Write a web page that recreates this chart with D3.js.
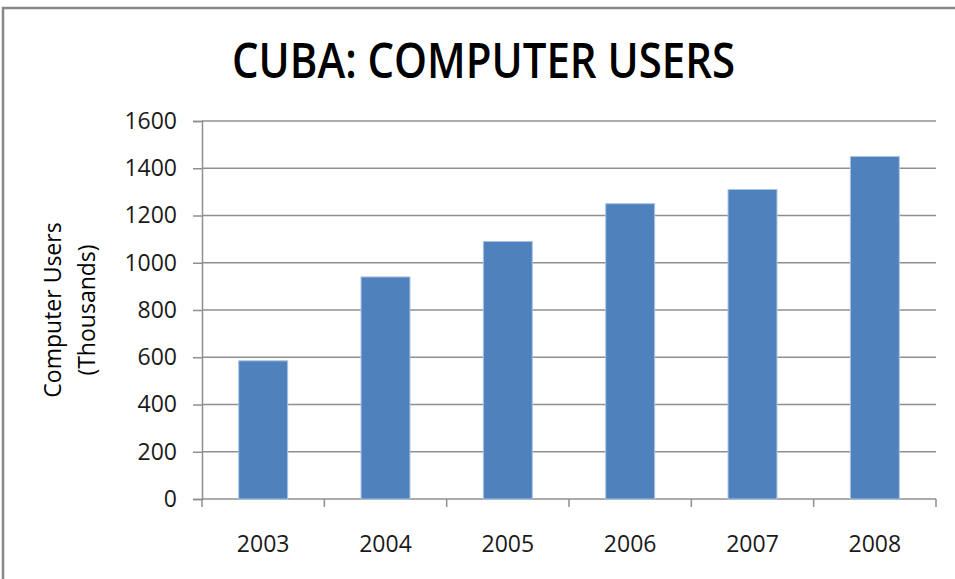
<!DOCTYPE html>
<html><head><meta charset="utf-8">
<script src="https://cdn.jsdelivr.net/npm/d3@7"></script>
<style>body{margin:0;background:#fff}svg{display:block}</style>
</head><body>
<script>
const years = ["2003","2004","2005","2006","2007","2008"];
const users = [585, 940, 1090, 1250, 1310, 1450];
const yTicks = [0,200,400,600,800,1000,1200,1400,1600];
const title = "CUBA: COMPUTER USERS";
const yTitle = ["Computer Users","(Thousands)"];

const W=955,H=579;
const m={left:202,right:936,top:121,bottom:499};
const svg=d3.select("body").append("svg").attr("width",W).attr("height",H);
svg.append("rect").attr("x",3).attr("y",8).attr("width",W+10).attr("height",H+10)
  .attr("fill","#fff").attr("stroke","#888").attr("stroke-width",2.5);

const x=d3.scaleBand().domain(years).range([m.left,m.right]).paddingInner(0.6).paddingOuter(0.3);
const y=d3.scaleLinear().domain([0,1600]).range([m.bottom,m.top]);

// gridlines
svg.append("g").selectAll("line").data(yTicks.filter(d=>d>0)).join("line")
  .attr("x1",m.left).attr("x2",m.right).attr("y1",d=>y(d)).attr("y2",d=>y(d))
  .attr("stroke","#8f8f8f").attr("stroke-width",1.5);

// y axis
const ya=svg.append("g").attr("transform",`translate(${m.left},0)`)
  .call(d3.axisLeft(y).tickValues(yTicks).tickFormat(d3.format("d")).tickSize(9).tickPadding(16));
ya.select(".domain").attr("stroke","#8f8f8f").attr("stroke-width",1.5);
ya.selectAll(".tick line").attr("stroke","#8f8f8f").attr("stroke-width",1.5);
ya.selectAll("text").attr("font-family","Open Sans").attr("font-size",23).attr("fill","#1a1a1a");

// x axis
const xs=d3.scaleLinear().domain([0,years.length]).range([m.left,m.right]);
const xa=svg.append("g").attr("transform",`translate(0,${m.bottom})`);
xa.append("line").attr("x1",m.left).attr("x2",m.right).attr("stroke","#8f8f8f").attr("stroke-width",1.5);
xa.selectAll(".xt").data(d3.range(years.length+1)).join("line").attr("class","xt")
  .attr("x1",d=>xs(d)).attr("x2",d=>xs(d)).attr("y1",0).attr("y2",8)
  .attr("stroke","#8f8f8f").attr("stroke-width",1.5);
xa.selectAll("text").data(years).join("text")
  .attr("x",d=>x(d)+x.bandwidth()/2).attr("y",53).attr("text-anchor","middle")
  .attr("font-family","Open Sans").attr("font-size",23).attr("fill","#1a1a1a").text(d=>d);

// bars
svg.append("g").selectAll("rect").data(years).join("rect")
  .attr("x",d=>x(d)).attr("width",x.bandwidth())
  .attr("y",(d,i)=>y(users[i])).attr("height",(d,i)=>m.bottom-y(users[i]))
  .attr("fill","#4f81bd").attr("stroke","#a9c4e4").attr("stroke-width",1);

// title
svg.append("text").attr("x",483.5).attr("y",78).attr("text-anchor","middle")
  .attr("font-family","Open Sans").attr("font-weight","600").attr("font-size",48)
  .attr("textLength",503).attr("lengthAdjust","spacingAndGlyphs").attr("fill","#000").text(title);

// y title
const yt=svg.append("text").attr("transform","translate(0,310) rotate(-90)")
  .attr("text-anchor","middle").attr("font-family","Open Sans").attr("font-weight","500").attr("font-size",23).attr("fill","#000");
yt.append("tspan").attr("x",0).attr("y",61).text(yTitle[0]);
yt.append("tspan").attr("x",0).attr("y",95).text(yTitle[1]);
</script>
</body></html>
